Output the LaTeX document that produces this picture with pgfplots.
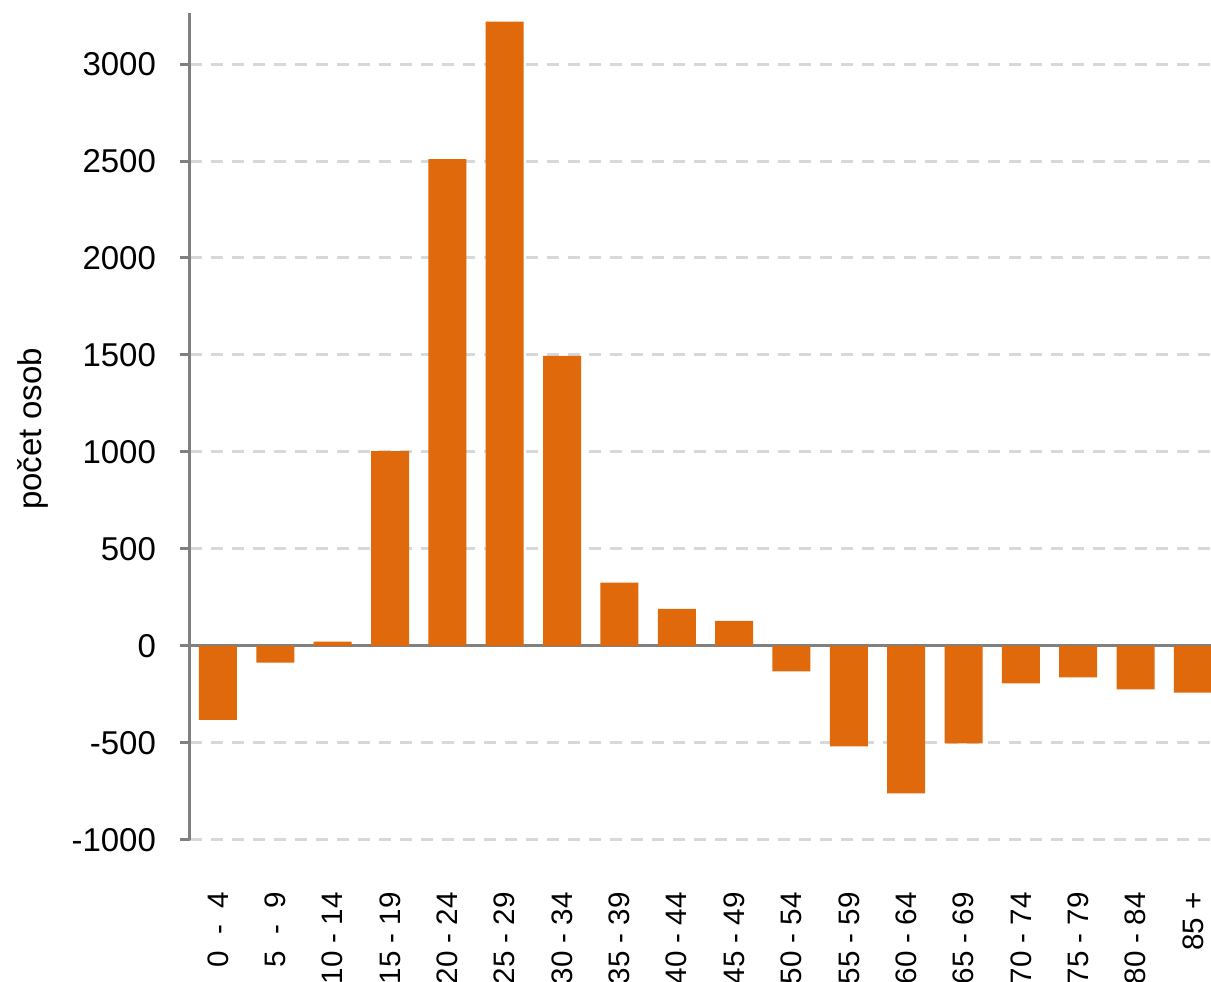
\documentclass[border=0pt]{standalone}
\usepackage{fontspec}
\setmainfont{Liberation Sans}
\usepackage{pgfplots}
\pgfplotsset{compat=1.18}
\definecolor{barc}{HTML}{E0690B}
\definecolor{gridc}{HTML}{D8D8D8}
\definecolor{axc}{HTML}{808080}
\begin{document}
\begin{tikzpicture}
\begin{axis}[
  name=ax,
  scale only axis,
  width=510.5pt, height=413.5pt,
  xmin=-0.488, xmax=17.315,
  ymin=-1000, ymax=3263,
  axis lines*=left,
  x axis line style={draw=none},
  y axis line style={axc, line width=1.5pt},
  ytick={-1000,-500,0,500,1000,1500,2000,2500,3000},
  ytick pos=left,
  tick align=outside,
  major tick length=5pt,
  ytick style={axc, line width=1.5pt},
  xtick={0,...,17},
  xtick style={draw=none},
  xticklabels={{0\ \ -\ \ 4},{5\ \ -\ \ 9},{10 - 14},{15 - 19},{20 - 24},{25 - 29},{30 - 34},{35 - 39},{40 - 44},{45 - 49},{50 - 54},{55 - 59},{60 - 64},{65 - 69},{70 - 74},{75 - 79},{80 - 84},{85 +}},
  xticklabel style={rotate=90, anchor=east, font=\fontsize{14.8}{18}\selectfont},
  xticklabel shift=17.5pt,
  yticklabel style={font=\fontsize{16.5}{19}\selectfont, xshift=-8.5pt},
  /pgf/number format/assume math mode=true,
  /pgf/number format/1000 sep={},
  ymajorgrids,
  grid style={gridc, line width=1.5pt, dash pattern=on 6pt off 4.5pt},
  extra y ticks={0},
  extra y tick labels={},
  extra y tick style={grid style={solid, axc, line width=1.5pt}},
  ylabel={počet osob},
  ylabel style={at={(axis description cs:-0.1537,0.497)}, anchor=center, rotate=0, font=\fontsize{16.5}{19}\selectfont},
  ybar,
  bar width=19pt,
]
\addplot[fill=barc, draw=none] coordinates {
(0,-381) (1,-86) (2,22) (3,1005) (4,2510) (5,3218) (6,1495) (7,326) (8,191)
(9,129) (10,-131) (11,-517) (12,-760) (13,-502) (14,-193) (15,-162) (16,-224) (17,-240)
};
\end{axis}
\pgfresetboundingbox
\path[use as bounding box] ([shift={(-95pt,-71pt)}]ax.south west) rectangle ([shift={(0pt,6.5pt)}]ax.north east);
\end{tikzpicture}
\end{document}
